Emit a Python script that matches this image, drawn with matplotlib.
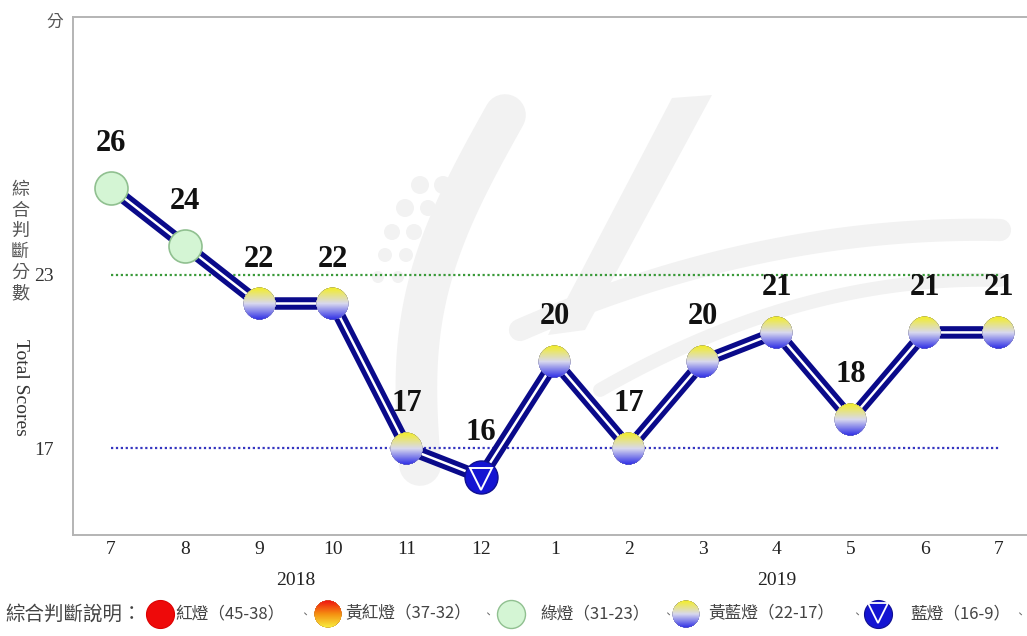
import numpy as np
import matplotlib
matplotlib.use("Agg")
import matplotlib.pyplot as plt
from matplotlib.offsetbox import OffsetImage, AnnotationBbox
from matplotlib.colors import to_rgb
from matplotlib.patches import Polygon, Circle

# ---- data ----
months = ["7", "8", "9", "10", "11", "12", "1", "2", "3", "4", "5", "6", "7"]
scores = [26, 24, 22, 22, 17, 16, 20, 17, 20, 21, 18, 21, 21]
years = ["2018", "2019"]
year_pos = [2.5, 9.0]
green_line = 23
blue_line = 17
ytick_vals = [17, 23]
legend_items = ["紅燈（45-38）", "黃紅燈（37-32）", "綠燈（31-23）", "黃藍燈（22-17）", "藍燈（16-9）"]
legend_title = "綜合判斷說明："

CJK = ["Noto Sans CJK TC", "DejaVu Sans"]
SERIF = "Liberation Serif"

W, H = 1027, 636
fig = plt.figure(figsize=(W / 100, H / 100), dpi=100)

# faint watermark logo in the background (figure pixels)
bax = fig.add_axes([0, 0, 1, 1], zorder=-1)
bax.set_xlim(0, W)
bax.set_ylim(H, 0)
bax.axis("off")
wm = "#f2f2f2"
t = np.linspace(0, 1, 80)
# left crescent arm
lx = 505 - 85 * t - 35 * np.sin(np.pi * t)
ly_ = 115 + 350 * t
bax.plot(lx, ly_, color=wm, lw=30, solid_capstyle="round")
# right arm
bax.add_patch(Polygon([(672, 98), (712, 95), (585, 330), (548, 335)], closed=True, fc=wm, ec="none"))
# swooshes to the right
sx = 520 + 480 * t
sy = 330 - 210 * t + 110 * t ** 2
bax.plot(sx, sy, color=wm, lw=16, solid_capstyle="round")
sx2 = 600 + 400 * t
sy2 = 390 - 230 * t + 120 * t ** 2
bax.plot(sx2, sy2, color=wm, lw=10, solid_capstyle="round")
for cx, cy, r in [(420, 185, 9), (443, 185, 9), (405, 208, 9), (428, 208, 8),
                  (392, 232, 8), (414, 232, 8), (385, 255, 7), (406, 255, 7),
                  (378, 277, 6), (398, 277, 6)]:
    bax.add_patch(Circle((cx, cy), r, fc=wm, ec="none"))

ax = fig.add_axes([73 / W, (H - 535) / H, (W - 73) / W, (535 - 17) / H])
ax.set_facecolor("none")
ax.set_xlim(-0.514, 12.38)
ax.set_ylim(14, 31.9)

for s in ["left", "top", "bottom"]:
    ax.spines[s].set_color("#b4b4b4")
    ax.spines[s].set_linewidth(1.4)
ax.spines["right"].set_visible(False)

x = np.arange(len(scores))

# threshold lines
ax.plot([0, 12], [green_line] * 2, color="#3a9a3a", lw=1.6, ls=(0, (1, 1.2)), zorder=1)
ax.plot([0, 12], [blue_line] * 2, color="#3535c0", lw=1.6, ls=(0, (1, 1.2)), zorder=1)

# main line: navy with white centre
ax.plot(x, scores, color="#0a0a8a", lw=9, solid_capstyle="round", zorder=2)
ax.plot(x, scores, color="white", lw=1.8, zorder=3)


def grad_circle(top, mid, bottom, n=160, edge="#8080a0"):
    yy, xx = np.mgrid[0:n, 0:n]
    c = (n - 1) / 2
    r = np.hypot(xx - c, yy - c)
    R = n / 2 - 1
    tt = yy / (n - 1)
    t1, t2, t3 = np.array(to_rgb(top)), np.array(to_rgb(mid)), np.array(to_rgb(bottom))
    img = np.zeros((n, n, 4))
    for k in range(3):
        img[..., k] = np.where(tt < 0.5, t1[k] + (t2[k] - t1[k]) * (tt / 0.5),
                               t2[k] + (t3[k] - t2[k]) * ((tt - 0.5) / 0.5))
    ering = np.clip(1 - np.abs(r - (R - 2)) / 2.5, 0, 1)
    e = np.array(to_rgb(edge))
    for k in range(3):
        img[..., k] = img[..., k] * (1 - 0.6 * ering) + e[k] * 0.6 * ering
    img[..., 3] = np.clip(R - r + 0.5, 0, 1)
    return img


yb_img = grad_circle("#f4ee20", "#d8d8ee", "#2a2ae6")
or_img = grad_circle("#f01010", "#f59010", "#f8f040", edge="#c08040")


def place_img(img, xy, diam, coords="data", z=5, axes=ax):
    n = img.shape[0]
    zoom = diam / (n * 100 / 72)
    ab = AnnotationBbox(OffsetImage(img, zoom=zoom), xy, xycoords=coords,
                        frameon=False, pad=0, zorder=z)
    axes.add_artist(ab)


D = 33  # marker diameter in px
for xi, s in zip(x, scores):
    if s >= 23:
        ax.plot(xi, s, "o", ms=D * 0.72, mfc="#d4f5d4", mec="#90c090", mew=1.2, zorder=5)
    elif s >= 17:
        place_img(yb_img, (xi, s), D)
    else:
        ax.plot(xi, s, "o", ms=D * 0.72, mfc="#1414d2", mec="#101090", mew=1.0, zorder=5)
        ax.plot(xi, s - 0.05, "v", ms=D * 0.5, mfc="none", mec="white", mew=1.4, zorder=6)
    ax.annotate(str(s), (xi, s), xytext=(0, 32), textcoords="offset points",
                ha="center", va="center", fontsize=22, fontweight="bold",
                family=SERIF, color="#111111", zorder=7)

ax.set_xticks(x)
ax.set_xticklabels(months, family=SERIF, fontsize=14, color="#222222")
ax.tick_params(axis="x", length=0, pad=4)
ax.set_yticks(ytick_vals)
ax.set_yticklabels([str(v) for v in ytick_vals], family=SERIF, fontsize=14, color="#333333")
ax.tick_params(axis="y", length=0, pad=14)

for yr, p in zip(years, year_pos):
    ax.annotate(yr, (p, 14), xytext=(0, -33), textcoords="offset points",
                ha="center", va="center", family=SERIF, fontsize=14, color="#222222",
                annotation_clip=False)

# unit label
fig.text(55 / W, 1 - 22 / H, "分", family=CJK, fontsize=12, color="#555555", ha="center", va="center")

# y-axis title: stacked CJK chars then rotated English
for i, ch in enumerate("綜合判斷分數"):
    fig.text(20 / W, 1 - (190 + i * 20.6) / H, ch, family=CJK, fontsize=13,
             color="#555555", ha="center", va="center")
fig.text(20 / W, 1 - 387 / H, "Total Scores", family=SERIF, fontsize=14,
         color="#333333", rotation=-90, ha="center", va="center")

# legend row (figure pixels)
lax = fig.add_axes([0, 0, 1, 1], facecolor="none")
lax.set_xlim(0, W)
lax.set_ylim(H, 0)
lax.axis("off")
ly = 614
lax.text(5, ly, legend_title, family=CJK, fontsize=14, color="#444444", ha="left", va="center")
LD = 28
lax.plot(160, ly, "o", ms=LD * 0.72, mfc="#ee0a0a", mec="#dd0000", mew=0.8)
place_img(or_img, (328, ly), LD, coords="data", axes=lax)
lax.plot(511, ly, "o", ms=LD * 0.72, mfc="#d4f5d4", mec="#90c090", mew=1.0)
place_img(yb_img, (686, ly), LD, coords="data", axes=lax)
lax.plot(878, ly, "o", ms=LD * 0.72, mfc="#1414d2", mec="#101090", mew=0.8)
lax.plot(878, ly - 1, "v", ms=LD * 0.5, mfc="none", mec="white", mew=1.3)
text_x = [175, 345, 540, 708, 910]
sep_x = [305, 488, 668, 857, 1020]
for tx, lbl in zip(text_x, legend_items):
    lax.text(tx, ly, lbl, family=CJK, fontsize=12, color="#444444", ha="left", va="center")
for sx_ in sep_x:
    lax.text(sx_, ly + 2, "、", family=CJK, fontsize=8, color="#666666", ha="center", va="center")

fig.savefig("out.png", dpi=100, facecolor="white")
